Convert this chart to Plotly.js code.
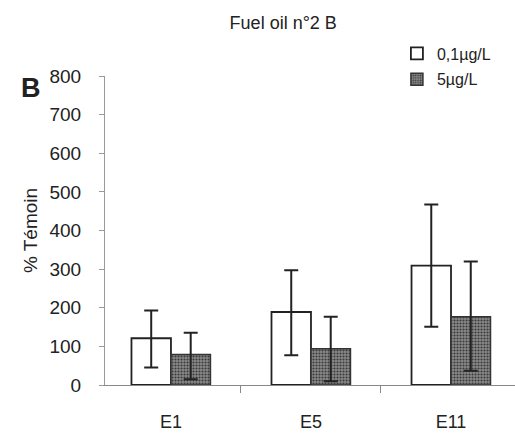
<!DOCTYPE html>
<html>
<head>
<meta charset="utf-8">
<script src="https://cdn.plot.ly/plotly-3.0.1.min.js"></script>
<style>html,body{margin:0;padding:0;background:#fff;}#chart{width:515px;height:433px;}</style>
</head>
<body>
<div id="chart"></div>
<script>
const categories = ["E1", "E5", "E11"];
const lowDoseValues = [121, 189, 309];
const lowDoseErrPlus = [72, 108, 158];
const lowDoseErrMinus = [76, 112, 158];
const highDoseValues = [79, 94, 177];
const highDoseErrPlus = [56, 83, 143];
const highDoseErrMinus = [64, 84, 140];
const seriesNames = ["0,1µg/L", "5µg/L"];
const yTicks = [0, 100, 200, 300, 400, 500, 600, 700, 800];

const FONT = "Liberation Sans, Arial, sans-serif";

const traces = [
  {
    type: "bar", name: seriesNames[0], x: categories, y: lowDoseValues,
    legendgroup: "a",
    marker: {color: "#ffffff", line: {color: "#222", width: 1.8}},
    error_y: {type: "data", symmetric: false, array: lowDoseErrPlus, arrayminus: lowDoseErrMinus,
              color: "#222", thickness: 2, width: 7}
  },
  {
    type: "bar", name: seriesNames[1], x: categories, y: highDoseValues,
    legendgroup: "b",
    marker: {color: "#808080", line: {color: "#333", width: 1.5},
             pattern: {shape: ".", bgcolor: "#8a8a8a", fgcolor: "#3a3a3a", size: 3, solidity: 0.4}},
    error_y: {type: "data", symmetric: false, array: highDoseErrPlus, arrayminus: highDoseErrMinus,
              color: "#222", thickness: 2, width: 7}
  }
];

const layout = {
  width: 515, height: 433,
  margin: {l: 105, r: 0, t: 76, b: 48, pad: 0},
  paper_bgcolor: "#fff", plot_bgcolor: "#fff",
  font: {family: FONT, size: 14, color: "#222"},
  barmode: "group", bargap: 0.436, bargroupgap: 0,
  showlegend: true,
  legend: {x: 0.712, y: 1.128, xanchor: "left", yanchor: "top",
           font: {family: FONT, size: 16, color: "#222"},
           tracegroupgap: 2, itemwidth: 30, bgcolor: "rgba(0,0,0,0)"},
  title: {text: "Fuel oil n°2 B", x: 0.55, xanchor: "center", y: 0.947, yanchor: "middle",
          font: {family: FONT, size: 18, color: "#222"}},
  xaxis: {
    type: "category", range: [-0.471, 2.457],
    showline: true, linecolor: "#888", linewidth: 1,
    ticks: "outside", tickson: "boundaries", ticklen: 7, tickcolor: "#888",
    ticklabelstandoff: 20,
    showgrid: false, zeroline: false,
    tickfont: {family: FONT, size: 18, color: "#222"}
  },
  yaxis: {
    range: [0, 800], tickvals: yTicks, ticktext: yTicks.map(String),
    showline: true, linecolor: "#999", linewidth: 1,
    ticks: "outside", ticklen: 5, tickcolor: "#999",
    ticklabelstandoff: 14,
    showgrid: false, zeroline: false,
    tickfont: {family: FONT, size: 19, color: "#222"},
    title: {text: "% Témoin", standoff: 6, font: {family: FONT, size: 19, color: "#222"}}
  },
  annotations: [
    {text: "<b>B</b>", xref: "paper", yref: "paper", x: -0.21, y: 0.961, yanchor: "middle",
     showarrow: false, font: {family: FONT, size: 27, color: "#222"}}
  ]
};

Plotly.newPlot("chart", traces, layout, {displayModeBar: false, staticPlot: true});
</script>
</body>
</html>
